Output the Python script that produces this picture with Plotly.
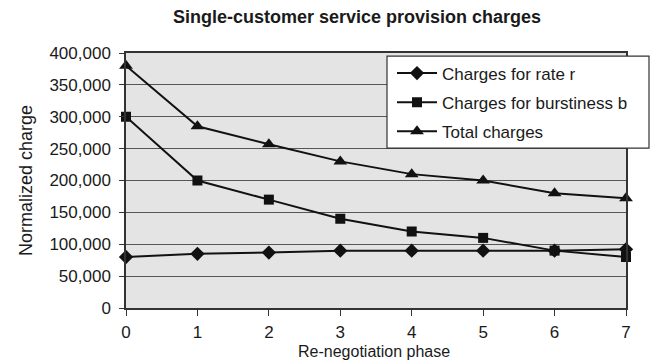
import plotly.graph_objects as go

# Re-negotiation phases and the normalized charges per phase
phases = [0, 1, 2, 3, 4, 5, 6, 7]
rate_charges = [80000, 85000, 87000, 90000, 90000, 90000, 90000, 92000]
burst_charges = [300000, 200000, 170000, 140000, 120000, 110000, 90000, 80000]
total_charges = [380000, 285000, 257000, 230000, 210000, 200000, 180000, 172000]

series = [
    ("Charges for rate r", rate_charges, "diamond", 11),
    ("Charges for burstiness b", burst_charges, "square", 10),
    ("Total charges", total_charges, "triangle-up", 12),
]

font_family = "Liberation Sans, Arial, sans-serif"
ink = "#1a1a1a"

fig = go.Figure()
for i, (name, values, symbol, size) in enumerate(series):
    fig.add_trace(go.Scatter(
        x=phases, y=values, name=name, mode="lines+markers",
        line=dict(color="#111111", width=2),
        marker=dict(symbol=symbol, size=size, color="#111111"),
        cliponaxis=False, legendgroup=str(i),
    ))

# Legend frame, drawn as a shape so it can be wider than the entries
fig.add_shape(
    type="rect", xref="paper", yref="paper",
    x0=0.522, x1=1.046, y0=0.627, y1=0.988,
    fillcolor="white", line=dict(color="#333333", width=1.2),
    layer="above",
)

# X-axis title placed just below the tick labels
fig.add_annotation(
    text="Re-negotiation phase", xref="paper", yref="paper",
    x=0.495, y=-0.1725, xanchor="center", yanchor="middle",
    showarrow=False, font=dict(size=16, color=ink),
)

fig.update_layout(
    width=655, height=362,
    margin=dict(l=126, r=29, t=53, b=54),
    paper_bgcolor="white",
    plot_bgcolor="#e4e4e4",
    font=dict(family=font_family, size=17, color=ink),
    title=dict(
        text="<b>Single-customer service provision charges</b>",
        font=dict(size=18, color=ink),
        x=0.545, xanchor="center", y=0.953, yanchor="middle",
    ),
    legend=dict(
        x=0.532, y=0.99, xanchor="left", yanchor="top",
        bgcolor="rgba(0,0,0,0)", borderwidth=0,
        font=dict(size=17, color=ink),
        traceorder="grouped", tracegroupgap=4,
        itemwidth=40,
    ),
    showlegend=True,
)

fig.update_xaxes(
    range=[0, 7], dtick=1, tick0=0, automargin=False,
    showgrid=False, zeroline=False,
    showline=True, linecolor="#333333", linewidth=1.5, mirror=True,
    ticks="outside", ticklen=6, tickcolor="#333333",
    tickfont=dict(size=17), ticklabelstandoff=2,
)
fig.update_yaxes(
    range=[0, 400000], dtick=50000, tick0=0, tickformat=",", automargin=False,
    showgrid=True, gridcolor="#555555", gridwidth=1, zeroline=False,
    showline=True, linecolor="#333333", linewidth=1.5, mirror=True,
    ticks="outside", ticklen=5, tickcolor="#333333",
    tickfont=dict(size=17), ticklabelstandoff=5,
    title=dict(text="Normalized charge", font=dict(size=18), standoff=12),
)

fig.write_html("out.html")
